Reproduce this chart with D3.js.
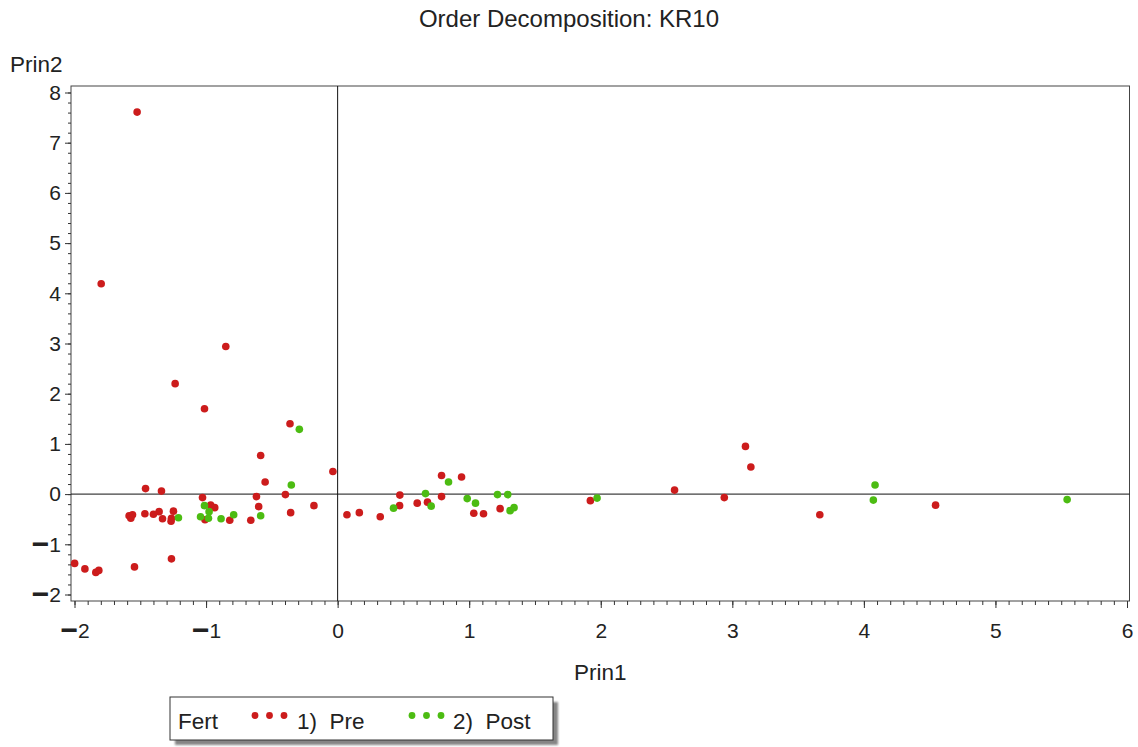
<!DOCTYPE html>
<html>
<head>
<meta charset="utf-8">
<script src="https://cdn.jsdelivr.net/npm/d3@7"></script>
<style>
  html, body { margin: 0; padding: 0; background: #fff; }
  svg { display: block; font-family: "Liberation Sans", Arial, Helvetica, sans-serif; }
  text { fill: #222; }
</style>
</head>
<body>
<svg id="chart" width="1138" height="747"></svg>
<script>
// Principal component scores, split by fertilisation period
const preX = [-1.524, -1.797, -0.85, -1.235, -1.012, -0.362, -0.585, -0.036, -0.551, -1.46,
              -1.339, -1.027, -0.617, -0.397, -0.965, -0.934, -0.60, -0.18, -0.357, -0.82,
              -0.66, -1.008, -1.248, -1.263, -1.266, -1.331, -1.357, -1.40, -1.465, -1.559,
              -1.585, -1.572, -1.263, -1.544, -1.999, -1.921, -1.838, -1.815, 0.071, 0.165,
              0.324, 0.471, 0.473, 0.605, 0.683, 0.79, 0.79, 0.942, 1.035, 1.109,
              1.235, 1.921, 2.561, 2.939, 3.10, 3.141, 3.665, 4.545];
const preY = [7.61, 4.19, 2.94, 2.20, 1.70, 1.40, 0.77, 0.45, 0.24, 0.11,
              0.06, -0.07, -0.05, -0.01, -0.22, -0.27, -0.25, -0.23, -0.37, -0.52,
              -0.52, -0.51, -0.34, -0.48, -0.54, -0.49, -0.35, -0.40, -0.39, -0.41,
              -0.43, -0.48, -1.29, -1.45, -1.38, -1.49, -1.56, -1.52, -0.41, -0.37,
              -0.45, -0.23, -0.02, -0.18, -0.16, 0.37, -0.05, 0.34, -0.38, -0.39,
              -0.29, -0.13, 0.08, -0.07, 0.95, 0.54, -0.41, -0.22];

const postX = [-0.291, -0.352, -1.012, -0.977, -0.585, -0.79, -0.886, -1.042, -0.982, -1.21,
               0.425, 0.668, 0.711, 0.843, 0.985, 1.048, 1.215, 1.293, 1.311, 1.341,
               1.972, 4.085, 4.072, 5.545];
const postY = [1.29, 0.18, -0.23, -0.35, -0.43, -0.41, -0.49, -0.45, -0.48, -0.47,
               -0.28, 0.01, -0.24, 0.24, -0.09, -0.18, -0.01, -0.01, -0.33, -0.27,
               -0.08, 0.18, -0.12, -0.11];

const xTicks = [-2, -1, 0, 1, 2, 3, 4, 5, 6];
const yTicks = [-2, -1, 0, 1, 2, 3, 4, 5, 6, 7, 8];

const groups = [
  { label: "1)  Pre",  color: "#cc1c1c", xs: preX,  ys: preY },
  { label: "2)  Post", color: "#4cbc12", xs: postX, ys: postY }
];

const svg = d3.select("#chart");
const TICK_FONT = 21;
const LABEL_FONT = 22.5;

const x = d3.scaleLinear().domain([-2, 6]).range([74.5, 1127]);
const y = d3.scaleLinear().domain([-2, 8]).range([594.5, 92.5]);

// plot frame
const fL = 71, fR = 1129.5, fT = 86, fB = 601;

svg.append("rect")
  .attr("x", fL).attr("y", fT)
  .attr("width", fR - fL).attr("height", fB - fT)
  .attr("fill", "none").attr("stroke", "#444").attr("stroke-width", 1);

// reference lines at the origin
svg.append("line")
  .attr("x1", x(0)).attr("x2", x(0)).attr("y1", fT).attr("y2", fB)
  .attr("stroke", "#111").attr("stroke-width", 1);
svg.append("line")
  .attr("x1", fL).attr("x2", fR).attr("y1", y(0)).attr("y2", y(0))
  .attr("stroke", "#111").attr("stroke-width", 1);

// render a leading minus as a wide, heavy dash, keeping the label's baseline offset
function styleMinus(sel) {
  sel.selectAll(".tick text").each(function () {
    const t = d3.select(this);
    const s = t.text();
    const dyEm = parseFloat(t.attr("dy")) || 0;
    const dyPx = dyEm * TICK_FONT;
    if (s.startsWith("−")) {
      t.text(null).attr("dy", null);
      t.append("tspan").attr("font-size", 30).attr("font-weight", "bold")
        .attr("dy", (dyPx + 2) + "px").text("−");
      t.append("tspan").attr("dy", "-2px").text(s.slice(1));
    }
  });
}

const fmt = d => d < 0 ? "−" + Math.abs(d) : String(d);

// x axis: minor then major ticks
const xMinor = d3.range(-2, 6.001, 0.1).map(v => +v.toFixed(2));
svg.append("g")
  .attr("transform", `translate(0,${fB})`)
  .call(d3.axisBottom(x).tickValues(xMinor).tickSize(4).tickFormat(""))
  .call(g => g.select(".domain").remove())
  .call(g => g.selectAll("line").attr("stroke", "#333"));

const gx = svg.append("g")
  .attr("transform", `translate(0,${fB})`)
  .call(d3.axisBottom(x).tickValues(xTicks).tickSize(7).tickPadding(15).tickFormat(fmt))
  .call(g => g.select(".domain").remove())
  .call(g => g.selectAll("line").attr("stroke", "#333"));
gx.selectAll(".tick text")
  .attr("font-size", TICK_FONT).attr("font-family", null).attr("fill", "#222");
styleMinus(gx);

// y axis: minor then major ticks
const yMinor = d3.range(-2, 8.001, 0.2).map(v => +v.toFixed(2));
svg.append("g")
  .attr("transform", `translate(${fL},0)`)
  .call(d3.axisLeft(y).tickValues(yMinor).tickSize(3).tickFormat(""))
  .call(g => g.select(".domain").remove())
  .call(g => g.selectAll("line").attr("stroke", "#333"));

const gy = svg.append("g")
  .attr("transform", `translate(${fL},0)`)
  .call(d3.axisLeft(y).tickValues(yTicks).tickSize(6).tickPadding(4).tickFormat(fmt))
  .call(g => g.select(".domain").remove())
  .call(g => g.selectAll("line").attr("stroke", "#333"));
gy.selectAll(".tick text")
  .attr("font-size", TICK_FONT).attr("font-family", null).attr("fill", "#222");
styleMinus(gy);

// points
groups.forEach(gr => {
  svg.append("g")
    .selectAll("circle")
    .data(gr.xs.map((v, i) => [v, gr.ys[i]]))
    .join("circle")
    .attr("cx", d => x(d[0]))
    .attr("cy", d => y(d[1]))
    .attr("r", 3.8)
    .attr("fill", gr.color);
});

// titles
svg.append("text")
  .attr("x", 569).attr("y", 27)
  .attr("text-anchor", "middle").attr("font-size", 24)
  .text("Order Decomposition: KR10");

svg.append("text")
  .attr("x", 10).attr("y", 72)
  .attr("font-size", LABEL_FONT)
  .text("Prin2");

svg.append("text")
  .attr("x", (fL + fR) / 2).attr("y", 680)
  .attr("text-anchor", "middle").attr("font-size", LABEL_FONT)
  .text("Prin1");

// legend
const lg = svg.append("g");
const defs = svg.append("defs");
defs.append("filter").attr("id", "soft")
  .append("feGaussianBlur").attr("stdDeviation", 1);

lg.append("rect")
  .attr("x", 175).attr("y", 702).attr("width", 383).attr("height", 43)
  .attr("fill", "#858585").attr("filter", "url(#soft)");
lg.append("rect")
  .attr("x", 170).attr("y", 697).attr("width", 383).attr("height", 43)
  .attr("fill", "#fff").attr("stroke", "#333").attr("stroke-width", 1);

lg.append("text")
  .attr("x", 178).attr("y", 729).attr("font-size", LABEL_FONT)
  .text("Fert");

const legendPos = [{ dot: 255, text: 297 }, { dot: 412, text: 453 }];
groups.forEach((gr, i) => {
  const p = legendPos[i];
  [0, 1, 2].forEach(k => {
    lg.append("circle")
      .attr("cx", p.dot + k * 14.5).attr("cy", 715.5)
      .attr("r", 3.4).attr("fill", gr.color);
  });
  lg.append("text")
    .attr("x", p.text).attr("y", 729).attr("font-size", LABEL_FONT)
    .style("white-space", "pre")
    .text(gr.label);
});
</script>
</body>
</html>
